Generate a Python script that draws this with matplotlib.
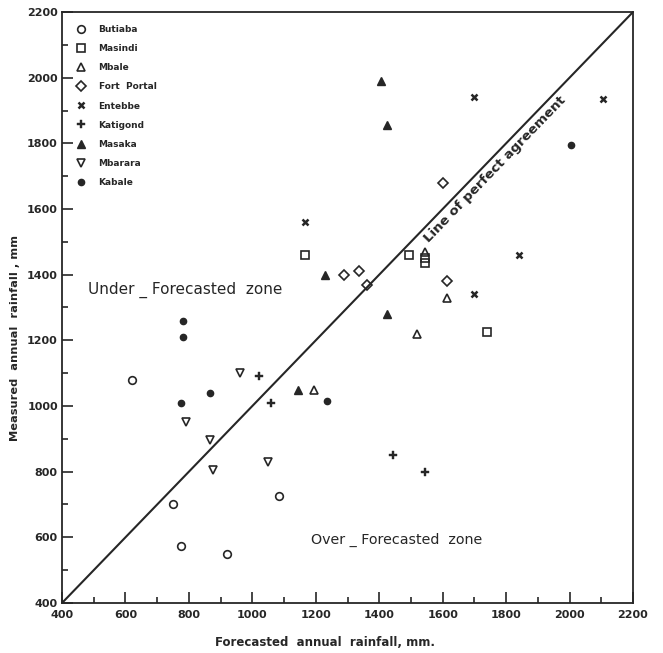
import numpy as np
import matplotlib
matplotlib.use("Agg")
import matplotlib.pyplot as plt
from matplotlib.ticker import MultipleLocator

# Forecasted (x) vs measured (y) annual rainfall, mm, per station
butiaba_x = [620, 750, 775, 920, 1085]
butiaba_y = [1080, 700, 575, 550, 725]

masindi_x = [1165, 1495, 1545, 1545, 1740]
masindi_y = [1460, 1460, 1450, 1435, 1225]

mbale_x = [1195, 1520, 1545, 1615]
mbale_y = [1050, 1220, 1470, 1330]

fort_portal_x = [1290, 1335, 1360, 1600, 1615]
fort_portal_y = [1400, 1410, 1370, 1680, 1380]

entebbe_x = [1165, 1700, 1700, 1840, 2105]
entebbe_y = [1560, 1940, 1340, 1460, 1935]

katigond_x = [1020, 1060, 1445, 1545]
katigond_y = [1090, 1010, 850, 800]

masaka_x = [1145, 1230, 1405, 1425, 1425]
masaka_y = [1050, 1400, 1990, 1855, 1280]

mbarara_x = [790, 865, 875, 960, 1050]
mbarara_y = [950, 895, 805, 1100, 830]

kabale_x = [775, 780, 780, 865, 1235, 2005]
kabale_y = [1010, 1260, 1210, 1040, 1015, 1795]

ink = "#262626"

fig = plt.figure(figsize=(6.63, 6.53), dpi=100)
ax = fig.add_axes([62 / 663, 1 - 603 / 653, 571 / 663, 591 / 653])

ms = 5.5
ax.plot(butiaba_x, butiaba_y, "o", ms=ms, mfc="none", mec=ink, mew=1.2, ls="none", label="Butiaba")
ax.plot(masindi_x, masindi_y, "s", ms=ms, mfc="none", mec=ink, mew=1.2, ls="none", label="Masindi")
ax.plot(mbale_x, mbale_y, "^", ms=ms, mfc="none", mec=ink, mew=1.2, ls="none", label="Mbale")
ax.plot(fort_portal_x, fort_portal_y, "D", ms=ms - 0.5, mfc="none", mec=ink, mew=1.2, ls="none", label="Fort  Portal")
ax.plot(entebbe_x, entebbe_y, "x", ms=4, mec=ink, mew=1.8, ls="none", label="Entebbe")
ax.plot(katigond_x, katigond_y, "P", ms=5.5, mfc=ink, mec=ink, mew=0.3, ls="none", label="Katigond")
ax.plot(masaka_x, masaka_y, "^", ms=ms, mfc=ink, mec=ink, ls="none", label="Masaka")
ax.plot(mbarara_x, mbarara_y, "v", ms=ms, mfc="none", mec=ink, mew=1.2, ls="none", label="Mbarara")
ax.plot(kabale_x, kabale_y, "o", ms=4.5, mfc=ink, mec=ink, ls="none", label="Kabale")

# line of perfect agreement
ax.plot([400, 2200], [400, 2200], color=ink, lw=1.5)
ax.text(1765, 1722, "Line of perfect agreement", rotation=45, rotation_mode="anchor",
        transform_rotates_text=True, ha="center", va="center",
        fontsize=9.6, fontweight="bold", color=ink)

ax.text(482, 1353, "Under _ Forecasted  zone", fontsize=11, color=ink, va="center")
ax.text(1185, 592, "Over _ Forecasted  zone", fontsize=10.3, color=ink, va="center")

ax.set_xlim(400, 2200)
ax.set_ylim(400, 2200)
ax.xaxis.set_major_locator(MultipleLocator(200))
ax.xaxis.set_minor_locator(MultipleLocator(100))
ax.yaxis.set_major_locator(MultipleLocator(200))
ax.yaxis.set_minor_locator(MultipleLocator(100))
ax.tick_params(which="major", direction="in", length=8, width=1.2, color=ink,
               labelsize=8, labelcolor=ink, pad=5)
ax.tick_params(axis="y", which="major", pad=3)
ax.tick_params(which="minor", direction="in", length=4, width=1.2, color=ink)
for lab in ax.get_xticklabels() + ax.get_yticklabels():
    lab.set_fontweight("bold")
for sp in ax.spines.values():
    sp.set_linewidth(1.3)
    sp.set_color(ink)

ax.set_xlabel("Forecasted  annual  rainfall, mm.", fontsize=8.5, fontweight="bold", color=ink)
ax.xaxis.set_label_coords(0.46, -0.055)
ax.set_ylabel("Measured  annual  rainfall , mm", fontsize=8.2, fontweight="bold", color=ink)
ax.yaxis.set_label_coords(-0.074, 0.448)

leg = ax.legend(loc="upper left", frameon=False, handletextpad=1.4,
                labelspacing=1.12, borderaxespad=0.95, handlelength=1.2,
                borderpad=0.5, prop={"weight": "bold", "size": 6.5})
for t in leg.get_texts():
    t.set_color(ink)

fig.savefig("out.png", dpi=100, facecolor="white")
